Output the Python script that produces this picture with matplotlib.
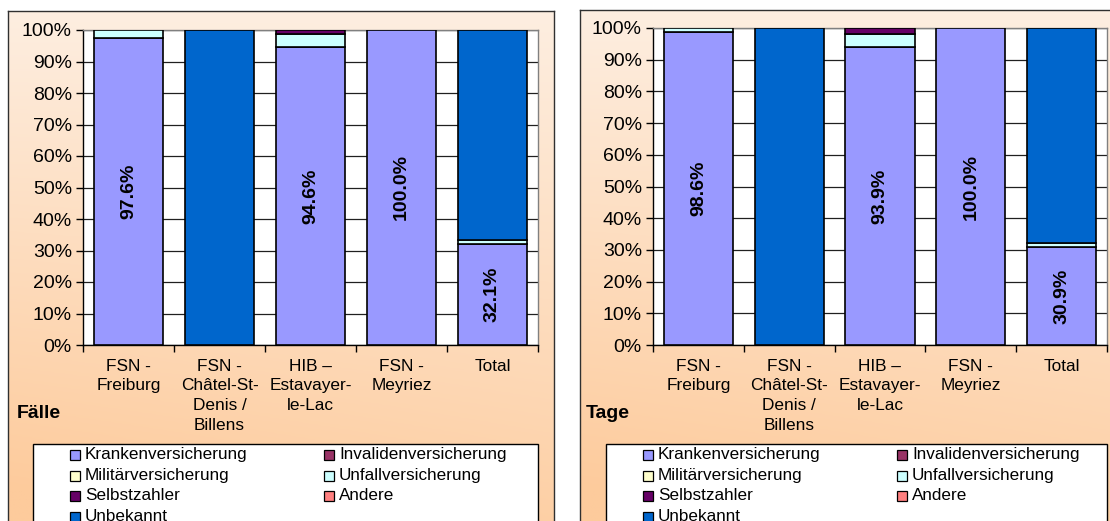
import numpy as np
import matplotlib
matplotlib.use("Agg")
import matplotlib.pyplot as plt
from matplotlib.patches import Rectangle
from matplotlib.colors import to_rgb

plt.rcParams['font.family'] = ['Liberation Sans', 'DejaVu Sans']

# -----------------------------
# Dati
# -----------------------------
categories = ["FSN -\nFreiburg", "FSN -\nChâtel-St-\nDenis /\nBillens",
              "HIB –\nEstavayer-\nle-Lac", "FSN -\nMeyriez", "Total"]
series_names = ["Krankenversicherung", "Invalidenversicherung", "Militärversicherung",
                "Unfallversicherung", "Selbstzahler", "Andere", "Unbekannt"]
series_colors = ["#9999FF", "#993366", "#FFFFCC", "#CCFFFF", "#660066", "#FF8080", "#0066CC"]

# Fälle (%)
faelle_kranken = [97.6, 0.0, 94.6, 100.0, 32.1]
faelle_invaliden = [0.0, 0.0, 0.1, 0.0, 0.0]
faelle_militaer = [0.0, 0.0, 0.0, 0.0, 0.0]
faelle_unfall = [2.4, 0.0, 3.9, 0.0, 1.2]
faelle_selbst = [0.0, 0.0, 1.4, 0.0, 0.0]
faelle_andere = [0.0, 0.0, 0.0, 0.0, 0.0]
faelle_unbekannt = [0.0, 100.0, 0.0, 0.0, 66.7]

# Tage (%)
tage_kranken = [98.6, 0.0, 93.9, 100.0, 30.9]
tage_invaliden = [0.0, 0.0, 0.1, 0.0, 0.0]
tage_militaer = [0.0, 0.0, 0.0, 0.0, 0.0]
tage_unfall = [1.4, 0.0, 4.0, 0.0, 1.2]
tage_selbst = [0.0, 0.0, 2.0, 0.0, 0.0]
tage_andere = [0.0, 0.0, 0.0, 0.0, 0.0]
tage_unbekannt = [0.0, 100.0, 0.0, 0.0, 67.9]

faelle = [faelle_kranken, faelle_invaliden, faelle_militaer, faelle_unfall,
          faelle_selbst, faelle_andere, faelle_unbekannt]
tage = [tage_kranken, tage_invaliden, tage_militaer, tage_unfall,
        tage_selbst, tage_andere, tage_unbekannt]

W, H = 1110, 521


def fx(x):
    return x / W


def fy(y):
    return 1 - y / H


# -----------------------------
# Sfondo pannello con gradiente
# -----------------------------
def panel_background(fig, left, top, right, bottom):
    bg = fig.add_axes([fx(left), fy(bottom), (right - left) / W, (bottom - top) / H], zorder=0)
    top_c = np.array(to_rgb("#FEF0E4"))
    bot_c = np.array(to_rgb("#FDCB9C"))
    v = np.linspace(0, 1, 200)[:, None]
    u = np.linspace(0, 1, 200)[None, :]
    t = np.clip(v * 0.85 + (1 - u) * 0.2 * v + 0.05, 0, 1)
    img = top_c[None, None, :] * (1 - t[..., None]) + bot_c[None, None, :] * t[..., None]
    bg.imshow(img, aspect='auto', extent=[0, 1, 0, 1], origin='upper')
    bg.set_xticks([])
    bg.set_yticks([])
    for s in bg.spines.values():
        s.set_color("#303030")
        s.set_linewidth(1.0)
    return bg


def legend_box(fig, left, top, right, bottom):
    fig.patches.append(Rectangle((fx(left), fy(bottom)), (right - left) / W, (bottom - top) / H,
                                 transform=fig.transFigure, facecolor="white",
                                 edgecolor="black", linewidth=1.0, zorder=3))
    # riga per riga, 2 colonne
    row_y = [455, 475.5, 496, 516.5]
    col_x = [left + 37, left + 291]
    for k in range(len(series_names)):
        r, c = k // 2, k % 2
        mx, my = col_x[c], row_y[r]
        fig.patches.append(Rectangle((fx(mx), fy(my + 5)), 10 / W, 10 / H,
                                     transform=fig.transFigure, facecolor=series_colors[k],
                                     edgecolor="black", linewidth=0.9, zorder=4))
        fig.text(fx(mx + 15), fy(my), series_names[k], fontsize=12.3,
                 va='center', ha='left', zorder=5)


def draw_chart(fig, rect, data, title, title_xy):
    ax = fig.add_axes(rect, zorder=2)
    ax.set_facecolor("white")
    x = np.arange(len(categories))
    bottom = np.zeros(len(categories))
    for vals, col in zip(data, series_colors):
        vals = np.array(vals)
        m = vals > 0
        ax.bar(x[m], vals[m], bottom=bottom[m], width=0.76, color=col,
               edgecolor="black", linewidth=1.2, zorder=3)
        bottom += vals
    # etichette Krankenversicherung
    for i, v in enumerate(data[0]):
        if v > 0:
            ax.text(i, v / 2, f"{v:.1f}%", rotation=90, ha='center', va='center',
                    fontsize=14, fontweight='bold', zorder=4)
    ax.set_xlim(-0.5, len(categories) - 0.5)
    ax.set_ylim(0, 100)
    ax.set_yticks(np.arange(0, 101, 10))
    ax.set_yticklabels([f"{v}%" for v in range(0, 101, 10)], fontsize=14)
    ax.set_xticks(x)
    ax.set_xticklabels(categories, fontsize=12.4, linespacing=1.38)
    ax.set_xticks(np.arange(-0.5, len(categories), 1), minor=True)
    ax.tick_params(axis='x', which='major', length=0, pad=10)
    ax.tick_params(axis='x', which='minor', length=5, width=1, direction='out')
    ax.tick_params(axis='y', length=5, width=1, pad=3)
    ax.yaxis.grid(True, color="#202020", linewidth=0.9)
    ax.set_axisbelow(True)
    for s in ["top", "right"]:
        ax.spines[s].set_color("#808080")
        ax.spines[s].set_linewidth(1.0)
    for s in ["left", "bottom"]:
        ax.spines[s].set_color("black")
        ax.spines[s].set_linewidth(1.0)
    fig.text(fx(title_xy[0]), fy(title_xy[1]), title, fontsize=14, fontweight='bold',
             ha='left', va='center', zorder=5)
    return ax


fig = plt.figure(figsize=(W / 100, H / 100), dpi=100)

# Pannello sinistro: Fälle
panel_background(fig, 8, 11, 554, 540)
draw_chart(fig, [fx(83), fy(345), (538 - 83) / W, (345 - 30) / H], faelle, "Fälle", (17, 414))
legend_box(fig, 33, 444, 538, 540)

# Pannello destro: Tage
panel_background(fig, 580, 10, 1125, 540)
draw_chart(fig, [fx(653), fy(345), (1107 - 653) / W, (345 - 28) / H], tage, "Tage", (586, 413))
legend_box(fig, 606, 444, 1107, 540)

fig.savefig("out.png", dpi=100)
